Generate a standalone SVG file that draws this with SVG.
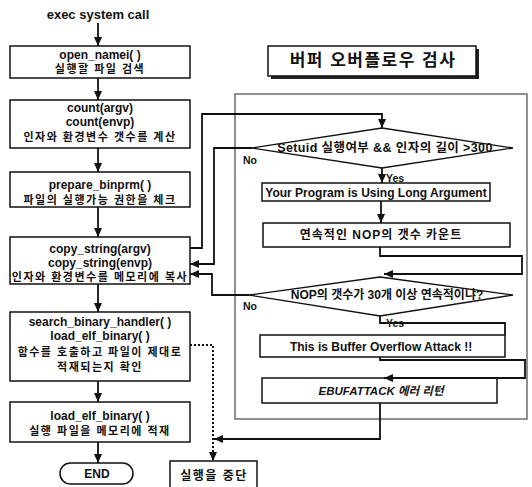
<svg xmlns="http://www.w3.org/2000/svg" width="532" height="487" viewBox="0 0 532 487">
<style>
  .bg{fill:#ffffff}
  .box{fill:#ffffff;stroke:#111;stroke-width:1.5}
  .frame{fill:none;stroke:#555;stroke-width:1.3}
  .dia{fill:#ffffff;stroke:#111;stroke-width:1.3}
  .conn{fill:none;stroke:#111;stroke-width:1.8}
  .dot{fill:none;stroke:#111;stroke-width:2;stroke-dasharray:2 2}
  text{fill:#111;font-family:"Liberation Sans","Noto Sans CJK KR",Arial,sans-serif;font-weight:bold;text-anchor:middle}
  .en{font-size:12px}
  .ko{font-size:11px;letter-spacing:1.5px}
  .mix{font-size:12px}
  .lbl{font-size:10.5px;text-anchor:start}
  .title{font-size:17px;letter-spacing:1.5px}
</style>
<defs>
  <marker id="ah" markerUnits="userSpaceOnUse" markerWidth="10" markerHeight="9" refX="9" refY="4" orient="auto">
    <path d="M0,0 L9,4 L0,8 z" fill="#111"/>
  </marker>
</defs>
<rect class="bg" x="0" y="0" width="532" height="487"/>

<g id="start"><text class="en" x="98" y="19" style="font-size:13px">exec system call</text></g>

<g id="n1"><rect class="box" x="10" y="46" width="180" height="32"/>
<text class="en" x="100" y="59">open_namei( )</text>
<text class="ko" x="100" y="73">실행할 파일 검색</text></g>

<g id="n2"><rect class="box" x="10" y="100" width="180" height="48"/>
<text class="en" x="100" y="112">count(argv)</text>
<text class="en" x="100" y="126">count(envp)</text>
<text class="ko" x="100" y="141">인자와 환경변수 갯수를 계산</text></g>

<g id="n3"><rect class="box" x="10" y="172" width="180" height="35"/>
<text class="en" x="100" y="189">prepare_binprm( )</text>
<text class="ko" x="100" y="204">파일의 실행가능 권한을 체크</text></g>

<g id="n4"><rect class="box" x="10" y="237" width="180" height="47"/>
<text class="en" x="100" y="253">copy_string(argv)</text>
<text class="en" x="100" y="267">copy_string(envp)</text>
<text class="ko" x="100" y="281">인자와 환경변수를 메모리에 복사</text></g>

<g id="n5"><rect class="box" x="10" y="312" width="180" height="69"/>
<text class="en" x="100" y="326">search_binary_handler( )</text>
<text class="en" x="100" y="340">load_elf_binary( )</text>
<text class="ko" x="100" y="356">함수를 호출하고 파일이 제대로</text>
<text class="ko" x="100" y="371">적재되는지 확인</text></g>

<g id="n6"><rect class="box" x="10" y="402" width="180" height="40"/>
<text class="en" x="100" y="420">load_elf_binary( )</text>
<text class="ko" x="100" y="435">실행 파일을 메모리에 적재</text></g>

<g id="end"><rect class="box" x="60" y="463" width="73" height="21" rx="10.5"/>
<text class="en" x="97" y="478">END</text></g>

<g id="title">
<rect x="271" y="49" width="208" height="30" fill="#222"/>
<rect class="box" x="268" y="46" width="208" height="30"/>
<text class="title" x="373" y="66">버퍼 오버플로우 검사</text></g>

<g id="frame"><rect class="frame" x="235" y="94" width="292" height="325"/></g>

<g id="d1"><polygon class="dia" points="382,128 513,148 382,168 252,148"/>
<text class="mix" x="385" y="152" style="font-size:12.5px;letter-spacing:0.4px">Setuid 실행여부 &amp;&amp; 인자의 길이 &gt;300</text></g>

<g id="p1"><rect class="box" x="262" y="183" width="228" height="18"/>
<text class="en" x="376" y="197">Your Program is Using Long Argument</text></g>

<g id="p2"><rect class="box" x="263" y="223" width="247" height="24"/>
<text class="mix" x="381" y="239" style="letter-spacing:1px">연속적인 NOP의 갯수  카운트</text></g>

<g id="d2"><polygon class="dia" points="380,277 513,295 380,316 249,295"/>
<text class="mix" x="387" y="299">NOP의 갯수가 30개 이상 연속적이냐?</text></g>

<g id="p3"><rect class="box" x="260" y="335" width="245" height="22"/>
<text class="en" x="381" y="351">This is Buffer Overflow Attack !!</text></g>

<g id="p4"><rect class="box" x="262" y="378" width="235" height="25"/>
<text class="en" x="381" y="395" style="font-style:italic;font-size:11.5px">EBUFATTACK 에러 리턴</text></g>

<g id="stop"><rect class="box" x="170" y="461" width="87" height="34"/>
<text class="ko" x="214" y="480" style="font-size:12px">실행을 중단</text></g>

<g id="connectors">
  <line class="conn" x1="98" y1="23" x2="98" y2="46" marker-end="url(#ah)"/>
  <line class="conn" x1="98" y1="78" x2="98" y2="100" marker-end="url(#ah)"/>
  <line class="conn" x1="98" y1="148" x2="98" y2="172" marker-end="url(#ah)"/>
  <line class="conn" x1="98" y1="207" x2="98" y2="237" marker-end="url(#ah)"/>
  <line class="conn" x1="98" y1="284" x2="98" y2="312" marker-end="url(#ah)"/>
  <line class="conn" x1="98" y1="381" x2="98" y2="402" marker-end="url(#ah)"/>
  <line class="conn" x1="98" y1="442" x2="98" y2="463" marker-end="url(#ah)"/>
  <path class="conn" d="M190,248 H202 V114 H382 V128" marker-end="url(#ah)"/>
  <path class="conn" d="M252,148 H214 V264 H190" marker-end="url(#ah)"/>
  <path class="conn" d="M249,295 H212 V274 H190" marker-end="url(#ah)"/>
  <path class="conn" d="M382,168 V183" marker-end="url(#ah)"/>
  <path class="conn" d="M381,201 V223" marker-end="url(#ah)"/>
  <path class="conn" d="M380,247 V256 H522 V274 H384" marker-end="url(#ah)"/>
  <path class="conn" d="M380,316 V323 H505 V335"/>
  <path class="conn" d="M380,357 V360 H525 V378 H384" marker-end="url(#ah)"/>
  <path class="conn" d="M380,403 V439 H214" marker-end="url(#ah)"/>
  <path class="dot" d="M190,345 H213 V461" marker-end="url(#ah)"/>
  <text class="lbl" x="243" y="164">No</text>
  <text class="lbl" x="386" y="182">Yes</text>
  <text class="lbl" x="243" y="310">No</text>
  <text class="lbl" x="386" y="327">Yes</text>
</g>
</svg>
